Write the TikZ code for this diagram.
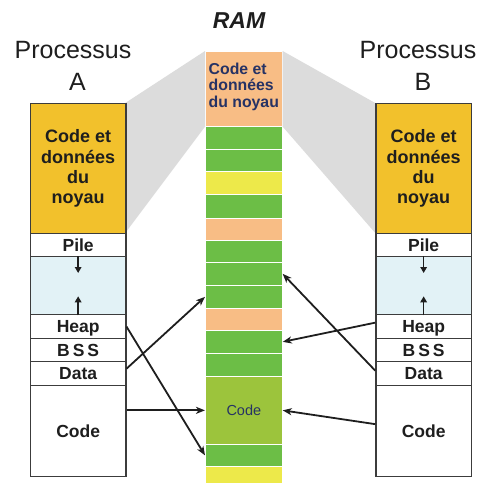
\documentclass[tikz,border=0pt]{standalone}
\usepackage{fontspec}
\setmainfont{Liberation Sans}
\usetikzlibrary{arrows.meta}

\definecolor{kernelgold}{RGB}{242,193,44}
\definecolor{peach}{RGB}{248,189,133}
\definecolor{ramgreen}{RGB}{108,190,70}
\definecolor{ramyellow}{RGB}{237,233,74}
\definecolor{ramlime}{RGB}{156,196,60}
\definecolor{gapblue}{RGB}{226,242,246}
\definecolor{funnel}{RGB}{220,220,220}
\definecolor{frame}{RGB}{60,60,60}
\definecolor{ramtext}{RGB}{38,50,100}
\definecolor{ink}{RGB}{30,30,30}

\begin{document}
\begin{tikzpicture}[x=1pt,y=-1pt,
  segbase/.style={draw=frame, line width=1.3pt, fill=white, minimum width=95.5pt,
    inner sep=0pt, anchor=north west, text=ink},
  seg/.style={segbase, font=\fontsize{17.5}{20}\selectfont\bfseries,
    text height=12.5pt, text depth=0pt},
  kernel/.style={segbase, fill=kernelgold, align=center,
    font=\fontsize{18}{20.3}\selectfont\bfseries},
  gap/.style={segbase, fill=gapblue},
  ramblock/.style={draw=white, line width=0.7pt, minimum width=77pt,
    inner sep=0pt, anchor=north west},
  title/.style={font=\fontsize{25}{28}\selectfont, text=ink, inner sep=0pt},
  ramtitle/.style={font=\fontsize{23}{28}\selectfont\bfseries\itshape, text=ink, inner sep=0pt},
  ramlabel/.style={font=\fontsize{15.8}{16.6}\selectfont\bfseries, text=ramtext,
    align=left, inner sep=0pt},
  conn/.style={draw=ink, line width=1.8pt,
    -{Stealth[length=9pt,width=7pt,inset=2.5pt]}},
  growth/.style={draw=ink, line width=1.4pt,
    -{Triangle[length=6pt,width=6.5pt]}}
]
\useasboundingbox (0,0) rectangle (480,483);

% RAM column
\foreach \i/\t/\b/\c in {1/51/126/peach, 2/126/149/ramgreen, 3/149/171/ramgreen,
    4/171/194/ramyellow, 5/194/218/ramgreen, 6/218/240/peach, 7/240/262/ramgreen,
    8/262/285/ramgreen, 9/285/308/ramgreen, 10/308/330/peach, 11/330/353/ramgreen,
    12/353/376/ramgreen, 13/376/444/ramlime, 14/444/466/ramgreen, 15/466/484/ramyellow}{
  \pgfmathsetmacro{\h}{\b-\t}
  \node[ramblock, fill=\c, minimum height=\h pt] (r\i) at (205,\t) {};
}

% kernel mapping funnels
\fill[funnel] (125.25,103) -- (r1.north west) -- (r1.south west) -- (125.25,233) -- cycle;
\fill[funnel] (r1.north east) -- (375.25,103) -- (375.25,233) -- (r1.south east) -- cycle;

% process A
\node[kernel, minimum height=130pt] (kA) at (29.75,103) {Code et\\données\\du\\noyau};
\node[seg, minimum height=23pt] (pileA) at (29.75,233) {Pile};
\node[gap, minimum height=58pt] (gapA) at (29.75,256) {};
\node[seg, minimum height=24pt] (heapA) at (29.75,314) {Heap};
\node[seg, minimum height=23pt] (bssA) at (29.75,338) {B\,S\,S};
\node[seg, minimum height=24pt] (dataA) at (29.75,361) {Data};
\node[seg, minimum height=91pt] (codeA) at (29.75,385) {Code};

% process B
\node[kernel, minimum height=130pt] (kB) at (375.25,103) {Code et\\données\\du\\noyau};
\node[seg, minimum height=23pt] (pileB) at (375.25,233) {Pile};
\node[gap, minimum height=58pt] (gapB) at (375.25,256) {};
\node[seg, minimum height=24pt] (heapB) at (375.25,314) {Heap};
\node[seg, minimum height=23pt] (bssB) at (375.25,338) {B\,S\,S};
\node[seg, minimum height=24pt] (dataB) at (375.25,361) {Data};
\node[seg, minimum height=91pt] (codeB) at (375.25,385) {Code};

% RAM labels
\node[ramlabel, anchor=north west] (rk) at (208.5,62.5) {Code et\\données\\du noyau};
\node[font=\fontsize{14.5}{17}\selectfont, text=ramtext, inner sep=0pt,
  text height=10.5pt, text depth=0pt] (rc) at (r13.center) {Code};

% titles
\node[title, anchor=base] (tA1) at (73,58) {Processus};
\node[title, anchor=base] (tA2) at (77.5,90) {A};
\node[title, anchor=base] (tB1) at (418,58) {Processus};
\node[title, anchor=base] (tB2) at (423,90) {B};
\node[ramtitle, anchor=base] (tR) at (239,28) {RAM};

% stack / heap growth
\draw[growth] (gapA.north) -- ++(0,17);
\draw[growth] (gapA.south) -- ++(0,-19);
\draw[growth] (gapB.north) -- ++(0,17);
\draw[growth] (gapB.south) -- ++(0,-19);

% page mappings, process A
\draw[conn] (heapA.east) -- (r14.west);
\draw[conn] ([yshift=5pt]dataA.east) -- (r9.west);
\draw[conn] (codeA.east |- r13.west) -- (r13.west);

% page mappings, process B
\draw[conn] ([yshift=4pt]heapB.west) -- (r11.east);
\draw[conn] ([yshift=3pt]dataB.west) -- (r8.east);
\draw[conn] ([yshift=7pt]codeB.west) -- (r13.east);
\end{tikzpicture}
\end{document}
